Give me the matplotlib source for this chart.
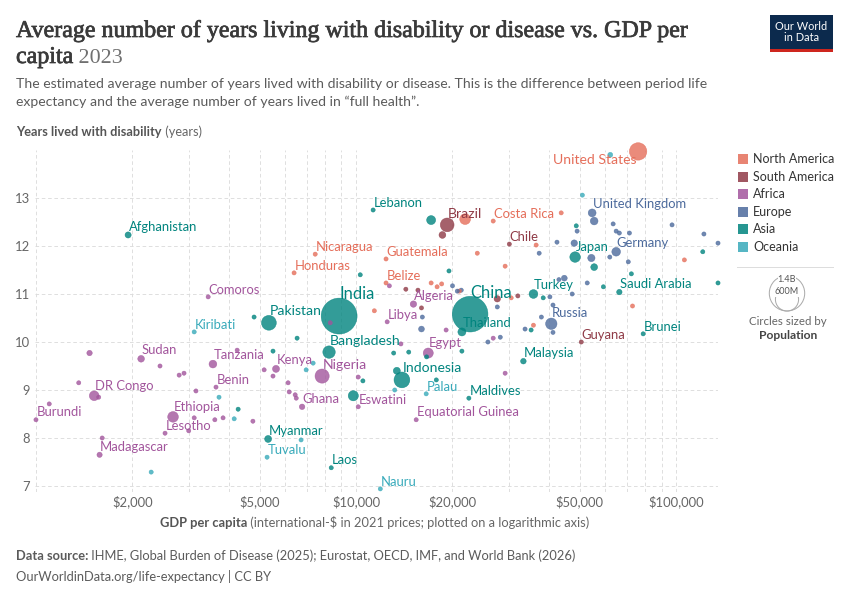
import numpy as np
import matplotlib.pyplot as plt
import matplotlib.patheffects as pe
from matplotlib.patches import Rectangle, Circle
from matplotlib.ticker import FixedLocator, FixedFormatter, NullFormatter, NullLocator

plt.rcParams['font.family'] = ['Lato', 'DejaVu Sans']

W, H = 850, 600

# region colours
region_codes = ['NA', 'SA', 'AF', 'EU', 'AS', 'OC']
region_labels = ['North America', 'South America', 'Africa', 'Europe', 'Asia', 'Oceania']
region_colors = ['#e56e5a', '#8f3a46', '#a2559c', '#4c6a9c', '#00847e', '#38aaba']
color_of = dict(zip(region_codes, region_colors))

# labelled countries: GDP per capita, years lived with disability, population (millions)
names = ['United States', 'United Kingdom', 'Germany', 'Japan', 'Saudi Arabia', 'Brunei',
         'Guyana', 'Russia', 'Turkey', 'Malaysia', 'China', 'Thailand', 'India', 'Pakistan',
         'Bangladesh', 'Nigeria', 'Indonesia', 'Egypt', 'Brazil', 'Lebanon', 'Costa Rica',
         'Chile', 'Nicaragua', 'Guatemala', 'Honduras', 'Belize', 'Algeria', 'Libya',
         'Afghanistan', 'Comoros', 'Kiribati', 'Sudan', 'DR Congo', 'Burundi', 'Madagascar',
         'Ethiopia', 'Lesotho', 'Tanzania', 'Benin', 'Kenya', 'Ghana', 'Eswatini', 'Myanmar',
         'Tuvalu', 'Laos', 'Nauru', 'Palau', 'Maldives', 'Equatorial Guinea']
gdp = [76000, 54600, 64900, 48300, 66400, 78800,
       50500, 40700, 35800, 33300, 22700, 21400, 8850, 5340,
       8230, 7830, 13900, 16800, 19250, 11300, 26800,
       30100, 7450, 12400, 6400, 12400, 15100, 12500,
       1940, 3450, 3120, 2130, 1520, 1000, 1580,
       2680, 2530, 3570, 3650, 5620, 6780, 10150, 5310,
       5270, 8360, 11900, 16550, 22500, 15400]
yld = [13.97, 12.69, 11.88, 11.77, 11.04, 10.17,
       10.0, 10.38, 11.0, 9.6, 10.58, 10.21, 10.54, 10.4,
       9.79, 9.29, 9.21, 9.77, 12.44, 12.75, 12.52,
       12.04, 11.83, 11.73, 11.44, 11.23, 10.79, 10.42,
       12.23, 10.94, 10.21, 9.65, 8.88, 8.38, 7.65,
       8.44, 8.1, 9.54, 9.06, 9.44, 8.65, 8.65, 7.98,
       7.6, 7.38, 6.94, 8.92, 8.83, 8.38]
pop = [340, 69, 84, 124, 33, 0.45,
       0.8, 145, 86, 35, 1420, 72, 1440, 245,
       172, 224, 278, 113, 211, 5.4, 5.2,
       19.6, 7, 18, 10.5, 0.4, 46, 7,
       42, 0.85, 0.13, 50, 105, 13, 31,
       127, 2.3, 67, 14, 55, 34, 1.2, 54,
       0.01, 7.7, 0.01, 0.02, 0.52, 1.7]
region = ['NA', 'EU', 'EU', 'AS', 'AS', 'AS',
          'SA', 'EU', 'AS', 'AS', 'AS', 'AS', 'AS', 'AS',
          'AS', 'AF', 'AS', 'AF', 'SA', 'AS', 'NA',
          'SA', 'NA', 'NA', 'NA', 'NA', 'AF', 'AF',
          'AS', 'AF', 'OC', 'AF', 'AF', 'AF', 'AF',
          'AF', 'AF', 'AF', 'AF', 'AF', 'AF', 'AF', 'AS',
          'OC', 'AS', 'OC', 'OC', 'AS', 'AF']

# unlabelled countries
other_gdp = [55400, 49000, 63500, 64900, 66400, 71400, 97000, 122000, 135000, 42400,
             48000, 54300, 62000, 70800, 44700, 43000, 52700, 47300, 40300, 41200,
             20000, 20700, 21300, 37300, 27600, 16100, 16000, 25800, 28200, 33700,
             37900, 41200,
             43700, 36500, 23900, 29200, 17150, 17900, 18500, 21000, 11400, 30500,
             35800, 73000, 106000, 21900,
             18600, 14300, 15600, 16000, 27600, 32000,
             12700, 8300, 19100, 26800, 13800, 29200, 4250, 5160, 5500, 6130,
             6180, 6450, 6500, 10150, 3160, 3120, 3620, 3840, 4760, 1470,
             1360, 1100, 1570, 1610, 2440, 2800, 2900, 3000,
             17150, 48700, 55400, 121000, 72400, 59200, 135000, 38400, 19500, 10300,
             35200, 4800, 6540, 5500, 21400, 14600, 13100, 16600, 13400, 10500,
             9800, 17800, 4280,
             50900, 62200, 6980, 7340, 3730, 4160, 6730, 2290, 13200]
other_yld = [12.52, 12.31, 12.46, 12.31, 12.27, 12.27, 12.44, 12.25, 12.06, 12.08,
             12.06, 11.75, 11.77, 11.67, 11.33, 11.3, 11.23, 11.0, 10.94, 10.77,
             11.17, 11.06, 11.08, 11.85, 10.73, 10.52, 10.27, 10.0, 10.1, 10.27,
             10.52, 10.2,
             12.69, 12.02, 11.85, 11.58, 11.23, 11.15, 11.21, 11.06, 10.65, 10.92,
             10.35, 10.75, 11.71, 12.56,
             12.23, 11.1, 11.08, 10.71, 10.9, 10.96,
             11.17, 10.4, 10.25, 10.08, 9.96, 9.35, 9.83, 9.42, 9.29, 9.15,
             8.96, 8.9, 8.83, 9.27, 8.98, 8.42, 8.38, 8.42, 8.35, 9.77,
             9.15, 8.71, 8.85, 8.0, 9.5, 9.31, 9.35, 8.15,
             12.54, 12.42, 11.56, 11.88, 11.42, 11.15, 11.23, 10.92, 11.48, 11.4,
             10.25, 10.52, 10.08, 9.81, 9.81, 9.79, 9.77, 9.69, 9.4, 9.19,
             8.88, 9.21, 8.6,
             13.06, 13.9, 9.42, 9.56, 8.85, 8.4, 7.96, 7.29, 9.0]
other_pop = [66, 10, 10, 9, 9, 10, 5, 5, 0.7, 10,
             47, 59, 9, 10, 38, 10, 10, 10, 10, 10,
             3, 3, 3, 10, 5, 3, 38, 5, 5, 5,
             5, 9,
             3, 3, 3, 3, 3, 3, 3, 3, 3, 3,
             3, 3, 3, 130,
             52, 10, 10, 10, 46, 18,
             5, 5, 3, 3, 12, 3, 5, 5, 5, 5,
             5, 5, 10, 5, 5, 5, 5, 5, 10, 33,
             5, 5, 5, 5, 5, 5, 5, 3,
             90, 10, 52, 5, 5, 5, 3, 5, 5, 5,
             5, 10, 5, 5, 5, 5, 5, 5, 55, 10,
             115, 5, 5,
             5, 27, 1, 1, 1, 1, 1, 10, 1]
other_region = ['EU'] * 32 + ['NA'] * 14 + ['SA'] * 6 + ['AF'] * 28 + ['AS'] * 23 + ['OC'] * 9

size_legend_pop = [1400, 600]
size_legend_text = ['1.4B', '600M']

x_ticks = [2000, 5000, 10000, 20000, 50000, 100000]
x_tick_labels = ['$2,000', '$5,000', '$10,000', '$20,000', '$50,000', '$100,000']
y_ticks = [7, 8, 9, 10, 11, 12, 13]


def radius(p):
    return np.maximum(2.1, 17.7 * np.sqrt(np.asarray(p, dtype=float) / 1400))


def fx(x):
    return x / W


def fy(y):
    return 1 - y / H


fig = plt.figure(figsize=(W / 72, H / 72), dpi=72)
ax = fig.add_axes([fx(35), fy(492), (718 - 35) / W, (492 - 150) / H])
ax.set_xscale('log')
ax.set_xlim(993, 135000)
ax.set_ylim(6.875, 14.0)
for s in ax.spines.values():
    s.set_visible(False)

grid_x = [m * 10 ** e for e in (3, 4) for m in range(1, 10)] + [100000]
for gx in grid_x:
    ax.axvline(gx, color='#dcdcdc', lw=0.9, ls=(0, (4, 3)), zorder=0)
for gy in y_ticks:
    ax.axhline(gy, color='#dcdcdc', lw=0.9, ls=(0, (4, 3)), zorder=0)

ax.xaxis.set_major_locator(FixedLocator(x_ticks))
ax.xaxis.set_major_formatter(FixedFormatter(x_tick_labels))
ax.xaxis.set_minor_locator(NullLocator())
ax.xaxis.set_minor_formatter(NullFormatter())
ax.set_yticks(y_ticks)
ax.tick_params(axis='both', length=0, labelsize=13, labelcolor='#666666')
ax.tick_params(axis='x', pad=3)
ax.tick_params(axis='y', pad=5)

# all points, big ones first
all_gdp = np.array(gdp + other_gdp, dtype=float)
all_yld = np.array(yld + other_yld, dtype=float)
all_pop = np.array(pop + other_pop, dtype=float)
all_reg = region + other_region
r_all = radius(all_pop)
order = np.argsort(-r_all)
cols = [color_of[all_reg[i]] for i in order]
ax.scatter(all_gdp[order], all_yld[order], s=(2 * r_all[order]) ** 2, c=cols,
           alpha=0.8, edgecolors=cols, linewidths=0.5, zorder=3, clip_on=False)

# country labels
for n, g, v, p, rg in zip(names, gdp, yld, pop, region):
    r = float(radius(p))
    fs = 16.5 if p > 1000 else (14 if p > 150 else 13)
    if n == 'United States':
        ax.annotate(n, (g, v), xytext=(-2, -3), textcoords='offset points',
                    ha='right', va='top', fontsize=fs, color=color_of[rg], zorder=5)
    else:
        ax.annotate(n, (g, v), xytext=(0.5, r * 0.85 + 1.5), textcoords='offset points',
                    ha='left', va='baseline', fontsize=fs, color=color_of[rg], zorder=5)

# header
title_fx = [pe.withStroke(linewidth=0.7, foreground='#3a3a3a')]
fig.text(fx(16), fy(37), 'Average number of years living with disability or disease vs. GDP per',
         fontsize=24, family='Liberation Serif', color='#3a3a3a', va='baseline',
         path_effects=title_fx)
t = fig.text(fx(16), fy(63), 'capita', fontsize=24, family='Liberation Serif',
             color='#3a3a3a', va='baseline', path_effects=title_fx)
ax.annotate(' 2023', xy=(1, 0), xycoords=t, va='bottom', ha='left', fontsize=22,
            family='Liberation Serif', color='#707070', annotation_clip=False)
fig.text(fx(16), fy(88), 'The estimated average number of years lived with disability or disease. '
         'This is the difference between period life', fontsize=14, color='#5b5b5b', va='baseline')
fig.text(fx(16), fy(106), 'expectancy and the average number of years lived in \u201cfull health\u201d.',
         fontsize=14, color='#5b5b5b', va='baseline')

t = fig.text(fx(16), fy(136), 'Years lived with disability', fontsize=12.8, fontweight='bold',
             color='#555555', va='baseline')
ax.annotate(' (years)', xy=(1, 0), xycoords=t, va='bottom', ha='left', fontsize=12.8,
            color='#666666', annotation_clip=False)

t = fig.text(fx(160), fy(527), 'GDP per capita', fontsize=12.9, fontweight='bold',
             color='#555555', va='baseline')
ax.annotate(' (international-$ in 2021 prices; plotted on a logarithmic axis)', xy=(1, 0),
            xycoords=t, va='bottom', ha='left', fontsize=12.9, color='#666666',
            annotation_clip=False)

t = fig.text(fx(16), fy(560), 'Data source:', fontsize=12.9, fontweight='bold',
             color='#5b5b5b', va='baseline')
ax.annotate(' IHME, Global Burden of Disease (2025); Eurostat, OECD, IMF, and World Bank (2026)',
            xy=(1, 0), xycoords=t, va='bottom', ha='left', fontsize=12.9, color='#5b5b5b',
            annotation_clip=False)
fig.text(fx(16), fy(581), 'OurWorldinData.org/life-expectancy | CC BY', fontsize=12.9,
         color='#5b5b5b', va='baseline')

# logo
fig.add_artist(Rectangle((fx(770), fy(52)), 63 / W, 37 / H, transform=fig.transFigure,
                         facecolor='#0c2a4d', edgecolor='none'))
fig.add_artist(Rectangle((fx(770), fy(52)), 63 / W, 3 / H, transform=fig.transFigure,
                         facecolor='#ce261e', edgecolor='none'))
fig.text(fx(801.5), fy(32), 'Our World\nin Data', fontsize=11, color='white',
         ha='center', va='center', linespacing=1.0)

# legend
lax = fig.add_axes([fx(730), fy(345), 120 / W, 205 / H])
lax.set_xlim(730, 850)
lax.set_ylim(345, 140)
lax.axis('off')
for i, (lab, c) in enumerate(zip(region_labels, region_colors)):
    yy = 159 + i * 17.6
    lax.add_patch(Rectangle((738, yy - 5), 10, 10, facecolor=c, alpha=0.85, edgecolor='none'))
    lax.text(753, yy, lab, fontsize=12.5, color='#333333', va='center', ha='left')
lax.plot([737, 833], [267, 267], color='#dddddd', lw=1)
for p, txt in zip(size_legend_pop, size_legend_text):
    r = float(radius(p))
    lax.add_patch(Circle((787, 311 - r), r, facecolor='none', edgecolor='#aaaaaa', lw=1))
    lax.text(787, 311 - 2 * r + 4, txt, fontsize=9, color='#555555', ha='center', va='center',
             bbox=dict(facecolor='white', edgecolor='none', pad=0.2))
lax.text(788, 322, 'Circles sized by', fontsize=11.5, color='#666666', ha='center', va='center')
lax.text(788, 336, 'Population', fontsize=12, fontweight='bold', color='#444444',
         ha='center', va='center')

fig.savefig('out.png', dpi=72)
